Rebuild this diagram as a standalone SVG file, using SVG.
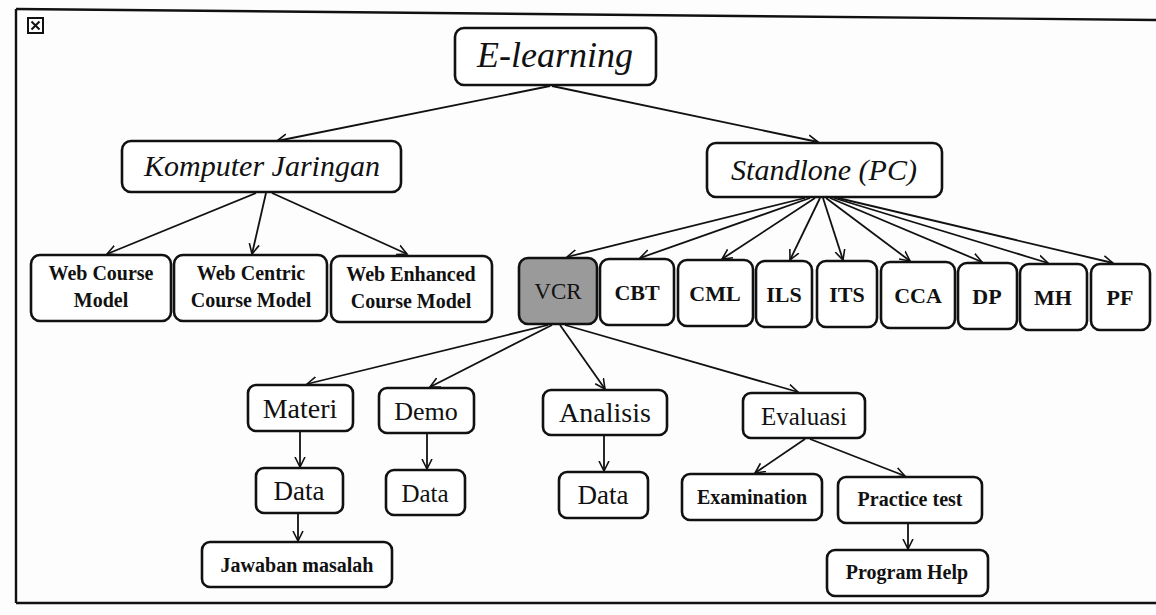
<svg xmlns="http://www.w3.org/2000/svg" width="1156" height="615" viewBox="0 0 1156 615">
<defs>
<marker id="ah" markerUnits="userSpaceOnUse" markerWidth="12" markerHeight="12" refX="10" refY="5" orient="auto" viewBox="0 0 12 10">
<path d="M0,0 L10,5 L0,10" fill="none" stroke="#111" stroke-width="1.6"/>
</marker>
</defs>
<style>
.bx{fill:#fff;stroke:#111;stroke-width:2.6}
.vcr{fill:#9a9a9a;stroke:#111;stroke-width:2.6}
.it{font-family:'Liberation Serif','DejaVu Serif','Times New Roman',Times,serif;font-style:italic;fill:#111;text-anchor:middle}
.rg{font-family:'Liberation Serif','DejaVu Serif','Times New Roman',Times,serif;fill:#111;text-anchor:middle}
.bd{font-family:'Liberation Serif','DejaVu Serif','Times New Roman',Times,serif;font-weight:bold;fill:#111;text-anchor:middle}
.cn line{stroke:#111;stroke-width:1.8;marker-end:url(#ah)}
.fr{stroke:#111;stroke-width:2.4;fill:none}
</style>
<rect width="1156" height="615" fill="#fdfdfd"/>
<g id="frame">
<line class="fr" x1="16" y1="9" x2="1156" y2="20"/>
<line class="fr" x1="16" y1="9" x2="16" y2="603"/>
<line class="fr" x1="16" y1="603" x2="1156" y2="603"/>
<rect x="28" y="18" width="15" height="15" fill="#fff" stroke="#111" stroke-width="2"/>
<path d="M31.5,21.5 L39.5,29.5 M39.5,21.5 L31.5,29.5" stroke="#111" stroke-width="2"/>
</g>
<g class="cn" id="connectors">
<line x1="550" y1="86" x2="277" y2="141"/>
<line x1="552" y1="86" x2="818" y2="142"/>
<line x1="256" y1="193" x2="107" y2="254"/>
<line x1="266" y1="193" x2="252" y2="254"/>
<line x1="272" y1="193" x2="407" y2="254"/>
<line x1="805" y1="198" x2="567" y2="257"/>
<line x1="810" y1="198" x2="640" y2="258"/>
<line x1="815" y1="198" x2="722" y2="259"/>
<line x1="820" y1="198" x2="790" y2="260"/>
<line x1="823" y1="198" x2="843" y2="260"/>
<line x1="826" y1="198" x2="910" y2="261"/>
<line x1="830" y1="198" x2="982" y2="262"/>
<line x1="834" y1="198" x2="1048" y2="263"/>
<line x1="838" y1="198" x2="1113" y2="263"/>
<line x1="548" y1="325" x2="307" y2="384"/>
<line x1="552" y1="325" x2="430" y2="387"/>
<line x1="560" y1="325" x2="605" y2="389"/>
<line x1="565" y1="325" x2="798" y2="392"/>
<line x1="300" y1="432" x2="300" y2="467"/>
<line x1="298" y1="514" x2="298" y2="541"/>
<line x1="427" y1="434" x2="427" y2="469"/>
<line x1="604" y1="436" x2="604" y2="471"/>
<line x1="805" y1="439" x2="755" y2="473"/>
<line x1="810" y1="439" x2="905" y2="476"/>
<line x1="908" y1="524" x2="908" y2="549"/>
</g>
<g id="n-elearning"><rect class="bx" x="455" y="28" width="201" height="57" rx="9"/><text class="it" x="555" y="67" font-size="36">E-learning</text></g>
<g id="n-komputer"><rect class="bx" x="122" y="141" width="279" height="51" rx="9"/><text class="it" x="262" y="176" font-size="30">Komputer Jaringan</text></g>
<g id="n-standlone"><rect class="bx" x="707" y="143" width="235" height="54" rx="9"/><text class="it" x="824" y="180" font-size="30">Standlone (PC)</text></g>
<g id="n-wcm"><rect class="bx" x="31" y="255" width="140" height="66" rx="9"/><text class="bd" x="101" y="280" font-size="20">Web Course</text><text class="bd" x="101" y="307" font-size="20">Model</text></g>
<g id="n-wcc"><rect class="bx" x="174" y="255" width="153" height="66" rx="9"/><text class="bd" x="251" y="280" font-size="20">Web Centric</text><text class="bd" x="251" y="307" font-size="20">Course Model</text></g>
<g id="n-wec"><rect class="bx" x="331" y="256" width="161" height="66" rx="9"/><text class="bd" x="411" y="281" font-size="20">Web Enhanced</text><text class="bd" x="411" y="308" font-size="20">Course Model</text></g>
<g id="n-vcr"><rect class="vcr" x="519" y="258" width="78" height="66" rx="9"/><text class="rg" x="558" y="299" font-size="23">VCR</text></g>
<g id="n-cbt"><rect class="bx" x="600" y="259" width="74" height="66" rx="9"/><text class="bd" x="637" y="300" font-size="22">CBT</text></g>
<g id="n-cml"><rect class="bx" x="678" y="260" width="75" height="66" rx="9"/><text class="bd" x="715" y="301" font-size="22">CML</text></g>
<g id="n-ils"><rect class="bx" x="756" y="261" width="56" height="66" rx="9"/><text class="bd" x="784" y="302" font-size="22">ILS</text></g>
<g id="n-its"><rect class="bx" x="817" y="261" width="60" height="66" rx="9"/><text class="bd" x="847" y="302" font-size="22">ITS</text></g>
<g id="n-cca"><rect class="bx" x="881" y="262" width="74" height="66" rx="9"/><text class="bd" x="918" y="303" font-size="22">CCA</text></g>
<g id="n-dp"><rect class="bx" x="958" y="263" width="59" height="66" rx="9"/><text class="bd" x="987" y="304" font-size="22">DP</text></g>
<g id="n-mh"><rect class="bx" x="1020" y="264" width="67" height="66" rx="9"/><text class="bd" x="1053" y="305" font-size="22">MH</text></g>
<g id="n-pf"><rect class="bx" x="1091" y="264" width="59" height="66" rx="9"/><text class="bd" x="1120" y="305" font-size="22">PF</text></g>
<g id="n-materi"><rect class="bx" x="248" y="385" width="105" height="46" rx="8"/><text class="rg" x="300" y="418" font-size="28">Materi</text></g>
<g id="n-demo"><rect class="bx" x="379" y="388" width="95" height="45" rx="8"/><text class="rg" x="426" y="420" font-size="26">Demo</text></g>
<g id="n-analisis"><rect class="bx" x="543" y="390" width="124" height="45" rx="8"/><text class="rg" x="605" y="422" font-size="28">Analisis</text></g>
<g id="n-evaluasi"><rect class="bx" x="743" y="393" width="122" height="45" rx="8"/><text class="rg" x="804" y="425" font-size="25">Evaluasi</text></g>
<g id="n-data1"><rect class="bx" x="256" y="468" width="87" height="45" rx="8"/><text class="rg" x="299" y="500" font-size="27">Data</text></g>
<g id="n-data2"><rect class="bx" x="386" y="470" width="79" height="45" rx="8"/><text class="rg" x="425" y="502" font-size="25">Data</text></g>
<g id="n-data3"><rect class="bx" x="559" y="472" width="89" height="46" rx="8"/><text class="rg" x="603" y="504" font-size="27">Data</text></g>
<g id="n-jawaban"><rect class="bx" x="202" y="542" width="190" height="45" rx="8"/><text class="bd" x="297" y="572" font-size="20">Jawaban masalah</text></g>
<g id="n-exam"><rect class="bx" x="682" y="474" width="140" height="46" rx="8"/><text class="bd" x="752" y="504" font-size="20">Examination</text></g>
<g id="n-practice"><rect class="bx" x="838" y="477" width="144" height="46" rx="8"/><text class="bd" x="910" y="506" font-size="20">Practice test</text></g>
<g id="n-help"><rect class="bx" x="827" y="550" width="161" height="46" rx="8"/><text class="bd" x="907" y="579" font-size="20">Program Help</text></g>
</svg>
